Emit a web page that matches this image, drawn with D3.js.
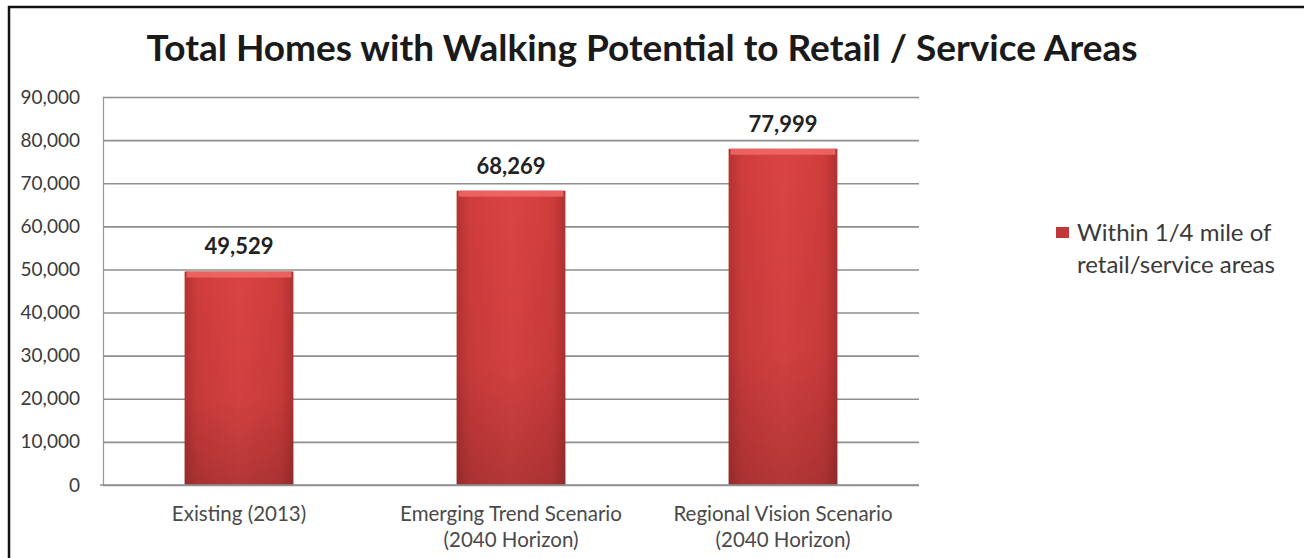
<!DOCTYPE html>
<html>
<head>
<meta charset="utf-8">
<script src="https://cdn.jsdelivr.net/npm/d3@7/dist/d3.min.js"></script>
<style>
  html, body { margin: 0; padding: 0; background: #fff; }
  svg { display: block; font-family: Lato, "Open Sans", sans-serif; }
  svg text { font-family: Lato, "Open Sans", sans-serif; }
</style>
</head>
<body>
<svg id="chart" width="1304" height="558"></svg>
<script>
// Chart data
const title = "Total Homes with Walking Potential to Retail / Service Areas";
const categories = ["Existing (2013)", "Emerging Trend Scenario (2040 Horizon)", "Regional Vision Scenario (2040 Horizon)"];
const categoryLines = [["Existing (2013)"], ["Emerging Trend Scenario", "(2040 Horizon)"], ["Regional Vision Scenario", "(2040 Horizon)"]];
const homesWithin = [49529, 68269, 77999];
const yTicks = [0, 10000, 20000, 30000, 40000, 50000, 60000, 70000, 80000, 90000];
const seriesName = ["Within 1/4 mile of", "retail/service areas"];

const svg = d3.select("#chart");
const plot = { left: 103, right: 919, top: 97, bottom: 485 };

const y = d3.scaleLinear().domain([0, 90000]).range([plot.bottom, plot.top]);
const x = d3.scaleBand().domain(categories).range([plot.left, plot.right])
  .paddingInner(0.6).paddingOuter(0.3);

// Outer frame
svg.append("rect").attr("x", 9).attr("y", 7).attr("width", 1310).attr("height", 570)
  .attr("fill", "none").attr("stroke", "#111").attr("stroke-width", 2.5);

// Title
svg.append("text").attr("x", 642).attr("y", 61).attr("text-anchor", "middle")
  .attr("font-size", 37).attr("font-weight", 700).attr("fill", "#1a1a1a").text(title);

// Gradients for the bars
const defs = svg.append("defs");
const side = defs.append("linearGradient").attr("id", "barSide").attr("x1", 0).attr("x2", 1).attr("y1", 0).attr("y2", 0);
[[0, "#b43333"], [0.12, "#cf3c3c"], [0.5, "#da4343"], [0.88, "#cf3c3c"], [1, "#b03232"]]
  .forEach(([o, c]) => side.append("stop").attr("offset", o).attr("stop-color", c));
const shade = defs.append("linearGradient").attr("id", "barShade").attr("x1", 0).attr("x2", 0).attr("y1", 0).attr("y2", 1);
[[0, "#000", 0], [0.6, "#000", 0.04], [1, "#000", 0.18]]
  .forEach(([o, c, a]) => shade.append("stop").attr("offset", o).attr("stop-color", c).attr("stop-opacity", a));

// Y axis with gridlines
const yAxis = svg.append("g").attr("transform", `translate(${plot.left},0)`)
  .call(d3.axisLeft(y).tickValues(yTicks).tickFormat(d3.format(","))
    .tickSize(-(plot.right - plot.left)).tickPadding(23))
  .attr("font-family", null);
yAxis.select(".domain").attr("stroke", "#999").attr("stroke-width", 1.2);
yAxis.selectAll(".tick line").attr("stroke", "#8f8f8f").attr("stroke-width", 1.6);
yAxis.selectAll(".tick text").attr("font-size", 19).attr("fill", "#3a3a3a");

// Bars
const bars = svg.append("g");
const data = categories.map((c, i) => ({ c, v: homesWithin[i] }));
bars.selectAll("rect.bar").data(data).join("rect").attr("class", "bar")
  .attr("x", d => x(d.c)).attr("width", x.bandwidth())
  .attr("y", d => y(d.v)).attr("height", d => y(0) - y(d.v))
  .attr("fill", "url(#barSide)");
bars.selectAll("rect.shade").data(data).join("rect").attr("class", "shade")
  .attr("x", d => x(d.c)).attr("width", x.bandwidth())
  .attr("y", d => y(d.v)).attr("height", d => y(0) - y(d.v))
  .attr("fill", "url(#barShade)");
bars.selectAll("rect.bevel").data(data).join("rect").attr("class", "bevel")
  .attr("x", d => x(d.c) + 2).attr("width", x.bandwidth() - 4)
  .attr("y", d => y(d.v)).attr("height", 6)
  .attr("fill", "#f06a66").attr("opacity", 0.85);

// Value labels
svg.append("g").selectAll("text").data(data).join("text")
  .attr("x", d => x(d.c) + x.bandwidth() / 2).attr("y", d => y(d.v) - 17)
  .attr("text-anchor", "middle").attr("font-size", 22).attr("font-weight", 700)
  .attr("fill", "#222").text(d => d3.format(",")(d.v));

// X axis labels
const xAxis = svg.append("g").attr("transform", `translate(0,${plot.bottom})`)
  .call(d3.axisBottom(x).tickSize(0).tickPadding(0))
  .attr("font-family", null);
xAxis.select(".domain").attr("stroke", "#8f8f8f").attr("stroke-width", 1.6)
  .attr("d", `M${plot.left - 3},0H${plot.right}`);
xAxis.selectAll(".tick text").each(function (d, i) {
  const t = d3.select(this).text(null).attr("y", 0).attr("dy", null)
    .attr("font-size", 20.5).attr("fill", "#4a4a4a");
  categoryLines[i].forEach((line, j) => {
    t.append("tspan").attr("x", 0).attr("y", 36 + j * 26).text(line);
  });
});

// Legend
const legend = svg.append("g").attr("transform", "translate(1056,227)");
legend.append("rect").attr("width", 13).attr("height", 11).attr("fill", "#c0373a");
legend.selectAll("text").data(seriesName).join("text")
  .attr("x", 21).attr("y", (d, i) => 14 + i * 32)
  .attr("font-size", 24).attr("fill", "#3a3a3a").text(d => d);
</script>
</body>
</html>
